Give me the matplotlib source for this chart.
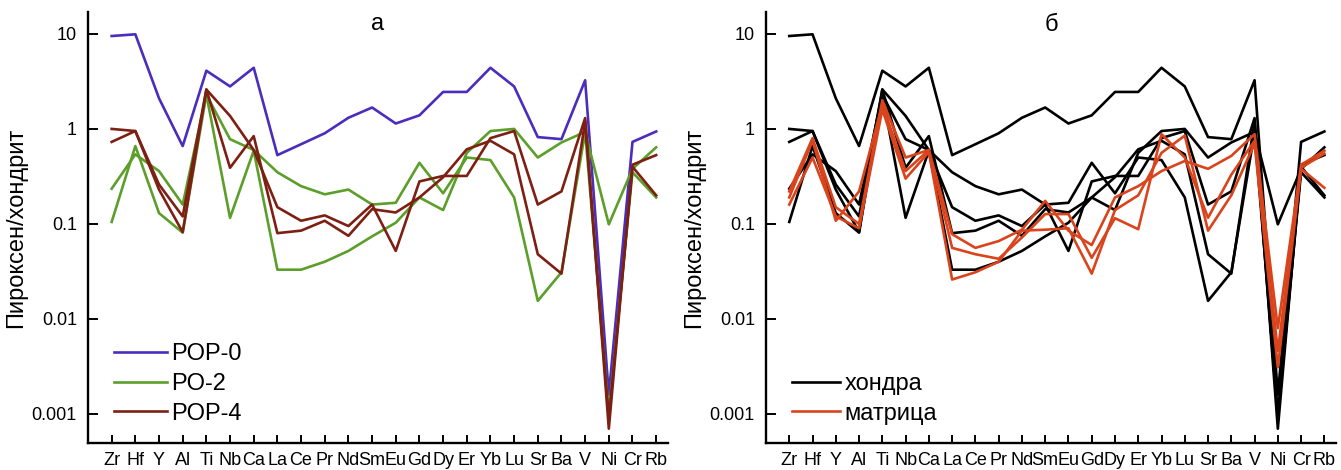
import matplotlib
matplotlib.use("Agg")
import matplotlib.pyplot as plt
from matplotlib import font_manager as fm

elements = ["Zr", "Hf", "Y", "Al", "Ti", "Nb", "Ca", "La", "Ce", "Pr", "Nd", "Sm",
            "Eu", "Gd", "Dy", "Er", "Yb", "Lu", "Sr", "Ba", "V", "Ni", "Cr", "Rb"]

# Chondrule pyroxene / chondrite
pop0 = [9.5, 9.9, 2.1, 0.66, 4.1, 2.8, 4.4, 0.53, 0.69, 0.9, 1.31, 1.68,
        1.14, 1.39, 2.45, 2.45, 4.4, 2.8, 0.82, 0.78, 3.25, 0.0016, 0.73, 0.94]
po2_a = [0.105, 0.66, 0.13, 0.081, 2.3, 0.78, 0.6, 0.35, 0.25, 0.205, 0.23, 0.16,
         0.167, 0.44, 0.21, 0.5, 0.47, 0.19, 0.0155, 0.031, 0.93, 0.001, 0.35, 0.19]
po2_b = [0.235, 0.54, 0.36, 0.16, 2.3, 0.116, 0.59, 0.033, 0.033, 0.04, 0.052, 0.074,
         0.103, 0.19, 0.14, 0.56, 0.95, 1.0, 0.5, 0.72, 0.93, 0.099, 0.38, 0.64]
pop4_a = [1.0, 0.95, 0.26, 0.12, 2.6, 1.37, 0.6, 0.15, 0.108, 0.123, 0.095, 0.16,
          0.052, 0.28, 0.32, 0.32, 0.8, 0.95, 0.16, 0.22, 1.3, 0.0007, 0.42, 0.53]
pop4_b = [0.73, 0.95, 0.23, 0.082, 2.6, 0.39, 0.84, 0.08, 0.085, 0.108, 0.075, 0.143,
          0.132, 0.19, 0.31, 0.61, 0.75, 0.54, 0.048, 0.03, 1.2, 0.0009, 0.40, 0.20]

# Matrix pyroxene / chondrite
matrix_1 = [0.22, 0.8, 0.15, 0.10, 2.0, 0.5, 0.6, 0.078, 0.056, 0.066, 0.087, 0.175,
            0.085, 0.06, 0.19, 0.25, 0.36, 0.46, 0.38, 0.52, 0.88, 0.008, 0.42, 0.59]
matrix_2 = [0.19, 0.75, 0.108, 0.22, 1.8, 0.36, 0.6, 0.056, 0.048, 0.043, 0.072, 0.127,
            0.127, 0.044, 0.115, 0.088, 0.88, 0.5, 0.116, 0.33, 0.75, 0.0046, 0.39, 0.55]
matrix_3 = [0.16, 0.5, 0.12, 0.09, 1.6, 0.3, 0.57, 0.026, 0.031, 0.04, 0.085, 0.087,
            0.09, 0.03, 0.14, 0.2, 0.56, 0.85, 0.085, 0.2, 0.7, 0.0031, 0.38, 0.24]

yticks = [0.001, 0.01, 0.1, 1, 10]
ytick_labels = ["0.001", "0.01", "0.1", "1", "10"]

available = {f.name for f in fm.fontManager.ttflist}
narrow = "Liberation Sans Narrow" if "Liberation Sans Narrow" in available else "Liberation Sans"
plt.rcParams["font.family"] = ["Liberation Sans", "DejaVu Sans"]

C_BLUE = "#4a2dbd"
C_GREEN = "#5c9e2a"
C_RED = "#7d1f12"
C_ORANGE = "#d9441c"
LW = 1.9

fig = plt.figure(figsize=(13.41, 4.70), dpi=100)
ax1 = fig.add_axes([88 / 1341, 1 - 443 / 470, 580 / 1341, 431 / 470])
ax2 = fig.add_axes([766 / 1341, 1 - 443 / 470, 570 / 1341, 431 / 470])

x = list(range(len(elements)))

l0, = ax1.plot(x, pop0, color=C_BLUE, lw=LW, label="POP-0")
l2, = ax1.plot(x, po2_a, color=C_GREEN, lw=LW, label="PO-2")
ax1.plot(x, po2_b, color=C_GREEN, lw=LW)
l4, = ax1.plot(x, pop4_a, color=C_RED, lw=LW, label="POP-4")
ax1.plot(x, pop4_b, color=C_RED, lw=LW)

chond = [pop0, po2_a, po2_b, pop4_a, pop4_b]
hb = None
for s in chond:
    hb, = ax2.plot(x, s, color="black", lw=LW)
hm = None
for s in [matrix_1, matrix_2, matrix_3]:
    hm, = ax2.plot(x, s, color=C_ORANGE, lw=LW)

for ax in (ax1, ax2):
    ax.set_yscale("log")
    ax.set_ylim(0.000495, 17)
    ax.set_xlim(-1, 23.5)
    ax.set_yticks(yticks)
    ax.set_yticklabels(ytick_labels)
    ax.minorticks_off()
    ax.set_xticks(x)
    ax.set_xticklabels(elements, fontsize=13, family=[narrow, "DejaVu Sans"])
    ax.spines["top"].set_visible(False)
    ax.spines["right"].set_visible(False)
    ax.spines["left"].set_linewidth(1.7)
    ax.spines["bottom"].set_linewidth(1.7)
    ax.tick_params(axis="x", direction="in", length=6, width=1.4, pad=6.5)
    ax.tick_params(axis="y", direction="in", length=7, width=1.4, pad=8, labelsize=13)
    ax.set_ylabel("Пироксен/хондрит", fontsize=17, labelpad=3)

ax1.text(0.5, 0.998, "а", transform=ax1.transAxes, ha="center", va="top", fontsize=17)
ax2.text(0.5, 0.995, "б", transform=ax2.transAxes, ha="center", va="top", fontsize=17)

ax1.legend(handles=[l0, l2, l4], loc="lower left", bbox_to_anchor=(0.02, 0.01),
           frameon=False, fontsize=17, handlelength=2.25, handletextpad=0.2,
           labelspacing=0.32, borderaxespad=0.2)
ax2.legend(handles=[hb, hm], labels=["хондра", "матрица"], loc="lower left",
           bbox_to_anchor=(0.02, 0.01), frameon=False, fontsize=17, handlelength=2.05,
           handletextpad=0.2, labelspacing=0.32, borderaxespad=0.2)

fig.savefig("out.png", dpi=100)
